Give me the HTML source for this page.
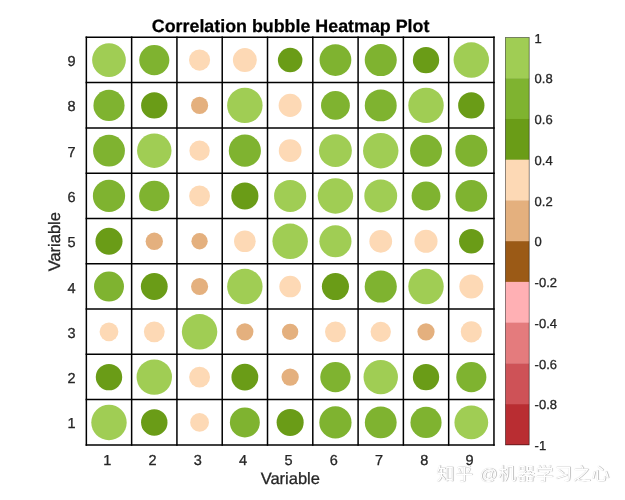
<!DOCTYPE html>
<html><head><meta charset="utf-8"><title>Correlation bubble Heatmap Plot</title>
<style>
html,body{margin:0;padding:0;background:#fff;}
body{width:625px;height:500px;overflow:hidden;position:relative;font-family:"Liberation Sans","Noto Sans CJK SC",sans-serif;}
svg{position:absolute;left:0;top:0;display:block;will-change:transform}
text{font-family:"Liberation Sans","Noto Sans CJK SC",sans-serif;text-rendering:geometricPrecision;stroke:#262626;stroke-width:.3px}
text.t{stroke:#000;stroke-width:.25px}
.wm{position:absolute;left:436.5px;top:461px;font-size:18px;letter-spacing:.65px;line-height:27px;color:#fff;white-space:nowrap;transform:scaleY(.92);transform-origin:0 50%;
text-shadow:0.7px 0.7px 0.7px rgba(0,0,0,.30),0 0 0.8px rgba(0,0,0,.22);}
</style></head><body>
<svg width="625" height="500" viewBox="0 0 625 500">
<rect width="625" height="500" fill="#fff"/>
<g>
<circle cx="108.99" cy="60.09" r="16.88" fill="#A0CD54"/>
<circle cx="154.28" cy="60.09" r="15.07" fill="#7FB330"/>
<circle cx="199.57" cy="60.09" r="10.57" fill="#FDD9B5"/>
<circle cx="244.86" cy="60.09" r="11.97" fill="#FDD9B5"/>
<circle cx="290.15" cy="60.09" r="12.27" fill="#6A9C17"/>
<circle cx="335.44" cy="60.09" r="15.88" fill="#7FB330"/>
<circle cx="380.74" cy="60.09" r="16.02" fill="#7FB330"/>
<circle cx="426.02" cy="60.09" r="13.17" fill="#6A9C17"/>
<circle cx="471.31" cy="60.09" r="17.72" fill="#A0CD54"/>
<circle cx="108.99" cy="105.39" r="15.57" fill="#7FB330"/>
<circle cx="154.28" cy="105.39" r="13.17" fill="#6A9C17"/>
<circle cx="199.57" cy="105.39" r="8.57" fill="#E4B07E"/>
<circle cx="244.86" cy="105.39" r="17.72" fill="#A0CD54"/>
<circle cx="290.15" cy="105.39" r="11.52" fill="#FDD9B5"/>
<circle cx="335.44" cy="105.39" r="14.42" fill="#7FB330"/>
<circle cx="380.74" cy="105.39" r="15.97" fill="#7FB330"/>
<circle cx="426.02" cy="105.39" r="17.72" fill="#A0CD54"/>
<circle cx="471.31" cy="105.39" r="13.17" fill="#6A9C17"/>
<circle cx="108.99" cy="150.67" r="15.92" fill="#7FB330"/>
<circle cx="154.28" cy="150.67" r="17.22" fill="#A0CD54"/>
<circle cx="199.57" cy="150.67" r="10.17" fill="#FDD9B5"/>
<circle cx="244.86" cy="150.67" r="16.07" fill="#7FB330"/>
<circle cx="290.15" cy="150.67" r="11.38" fill="#FDD9B5"/>
<circle cx="335.44" cy="150.67" r="16.43" fill="#A0CD54"/>
<circle cx="380.74" cy="150.67" r="17.72" fill="#A0CD54"/>
<circle cx="426.02" cy="150.67" r="15.97" fill="#7FB330"/>
<circle cx="471.31" cy="150.67" r="16.02" fill="#7FB330"/>
<circle cx="108.99" cy="195.97" r="16.12" fill="#7FB330"/>
<circle cx="154.28" cy="195.97" r="15.17" fill="#7FB330"/>
<circle cx="199.57" cy="195.97" r="10.42" fill="#FDD9B5"/>
<circle cx="244.86" cy="195.97" r="13.57" fill="#6A9C17"/>
<circle cx="290.15" cy="195.97" r="16.07" fill="#A0CD54"/>
<circle cx="335.44" cy="195.97" r="17.72" fill="#A0CD54"/>
<circle cx="380.74" cy="195.97" r="16.43" fill="#A0CD54"/>
<circle cx="426.02" cy="195.97" r="14.42" fill="#7FB330"/>
<circle cx="471.31" cy="195.97" r="15.88" fill="#7FB330"/>
<circle cx="108.99" cy="241.26" r="13.52" fill="#6A9C17"/>
<circle cx="154.28" cy="241.26" r="8.67" fill="#E4B07E"/>
<circle cx="199.57" cy="241.26" r="8.17" fill="#E4B07E"/>
<circle cx="244.86" cy="241.26" r="10.82" fill="#FDD9B5"/>
<circle cx="290.15" cy="241.26" r="17.72" fill="#A0CD54"/>
<circle cx="335.44" cy="241.26" r="16.07" fill="#A0CD54"/>
<circle cx="380.74" cy="241.26" r="11.38" fill="#FDD9B5"/>
<circle cx="426.02" cy="241.26" r="11.52" fill="#FDD9B5"/>
<circle cx="471.31" cy="241.26" r="12.27" fill="#6A9C17"/>
<circle cx="108.99" cy="286.54" r="14.97" fill="#7FB330"/>
<circle cx="154.28" cy="286.54" r="13.42" fill="#6A9C17"/>
<circle cx="199.57" cy="286.54" r="8.57" fill="#E4B07E"/>
<circle cx="244.86" cy="286.54" r="17.72" fill="#A0CD54"/>
<circle cx="290.15" cy="286.54" r="10.82" fill="#FDD9B5"/>
<circle cx="335.44" cy="286.54" r="13.57" fill="#6A9C17"/>
<circle cx="380.74" cy="286.54" r="16.07" fill="#7FB330"/>
<circle cx="426.02" cy="286.54" r="17.72" fill="#A0CD54"/>
<circle cx="471.31" cy="286.54" r="11.97" fill="#FDD9B5"/>
<circle cx="108.99" cy="331.83" r="9.38" fill="#FDD9B5"/>
<circle cx="154.28" cy="331.83" r="10.42" fill="#FDD9B5"/>
<circle cx="199.57" cy="331.83" r="17.72" fill="#A0CD54"/>
<circle cx="244.86" cy="331.83" r="8.57" fill="#E4B07E"/>
<circle cx="290.15" cy="331.83" r="8.17" fill="#E4B07E"/>
<circle cx="335.44" cy="331.83" r="10.42" fill="#FDD9B5"/>
<circle cx="380.74" cy="331.83" r="10.17" fill="#FDD9B5"/>
<circle cx="426.02" cy="331.83" r="8.57" fill="#E4B07E"/>
<circle cx="471.31" cy="331.83" r="10.57" fill="#FDD9B5"/>
<circle cx="108.99" cy="377.12" r="13.22" fill="#6A9C17"/>
<circle cx="154.28" cy="377.12" r="17.72" fill="#A0CD54"/>
<circle cx="199.57" cy="377.12" r="10.42" fill="#FDD9B5"/>
<circle cx="244.86" cy="377.12" r="13.42" fill="#6A9C17"/>
<circle cx="290.15" cy="377.12" r="8.67" fill="#E4B07E"/>
<circle cx="335.44" cy="377.12" r="15.17" fill="#7FB330"/>
<circle cx="380.74" cy="377.12" r="17.22" fill="#A0CD54"/>
<circle cx="426.02" cy="377.12" r="13.17" fill="#6A9C17"/>
<circle cx="471.31" cy="377.12" r="15.07" fill="#7FB330"/>
<circle cx="108.99" cy="422.41" r="17.72" fill="#A0CD54"/>
<circle cx="154.28" cy="422.41" r="13.22" fill="#6A9C17"/>
<circle cx="199.57" cy="422.41" r="9.38" fill="#FDD9B5"/>
<circle cx="244.86" cy="422.41" r="14.97" fill="#7FB330"/>
<circle cx="290.15" cy="422.41" r="13.52" fill="#6A9C17"/>
<circle cx="335.44" cy="422.41" r="16.12" fill="#7FB330"/>
<circle cx="380.74" cy="422.41" r="15.92" fill="#7FB330"/>
<circle cx="426.02" cy="422.41" r="15.57" fill="#7FB330"/>
<circle cx="471.31" cy="422.41" r="16.88" fill="#A0CD54"/>
</g>
<g stroke="#000" stroke-width="1.5" fill="none" stroke-linecap="square">
<line x1="86.35" y1="37.30" x2="86.35" y2="444.91"/>
<line x1="86.35" y1="37.30" x2="493.96" y2="37.30"/>
<line x1="131.64" y1="37.30" x2="131.64" y2="444.91"/>
<line x1="86.35" y1="82.59" x2="493.96" y2="82.59"/>
<line x1="176.93" y1="37.30" x2="176.93" y2="444.91"/>
<line x1="86.35" y1="127.88" x2="493.96" y2="127.88"/>
<line x1="222.22" y1="37.30" x2="222.22" y2="444.91"/>
<line x1="86.35" y1="173.17" x2="493.96" y2="173.17"/>
<line x1="267.51" y1="37.30" x2="267.51" y2="444.91"/>
<line x1="86.35" y1="218.46" x2="493.96" y2="218.46"/>
<line x1="312.80" y1="37.30" x2="312.80" y2="444.91"/>
<line x1="86.35" y1="263.75" x2="493.96" y2="263.75"/>
<line x1="358.09" y1="37.30" x2="358.09" y2="444.91"/>
<line x1="86.35" y1="309.04" x2="493.96" y2="309.04"/>
<line x1="403.38" y1="37.30" x2="403.38" y2="444.91"/>
<line x1="86.35" y1="354.33" x2="493.96" y2="354.33"/>
<line x1="448.67" y1="37.30" x2="448.67" y2="444.91"/>
<line x1="86.35" y1="399.62" x2="493.96" y2="399.62"/>
<line x1="493.96" y1="37.30" x2="493.96" y2="444.91"/>
<line x1="86.35" y1="444.91" x2="493.96" y2="444.91"/>
</g>
<rect x="505.4" y="37.50" width="23.80" height="41.03" fill="#A0CD54"/>
<rect x="505.4" y="78.23" width="23.80" height="41.03" fill="#7FB330"/>
<rect x="505.4" y="118.96" width="23.80" height="41.03" fill="#6A9C17"/>
<rect x="505.4" y="159.69" width="23.80" height="41.03" fill="#FDD9B5"/>
<rect x="505.4" y="200.42" width="23.80" height="41.03" fill="#E4B07E"/>
<rect x="505.4" y="241.15" width="23.80" height="41.03" fill="#9B5A16"/>
<rect x="505.4" y="281.88" width="23.80" height="41.03" fill="#FFB0B4"/>
<rect x="505.4" y="322.61" width="23.80" height="41.03" fill="#E47B7D"/>
<rect x="505.4" y="363.34" width="23.80" height="41.03" fill="#CE5257"/>
<rect x="505.4" y="404.07" width="23.80" height="41.03" fill="#B92D32"/>
<rect x="505.4" y="37.5" width="23.80" height="407.30" fill="none" stroke="rgba(0,0,0,0.55)" stroke-width="0.8"/>
<g font-size="13" fill="#262626">
<text x="534.6" y="42.75">1</text>
<text x="534.6" y="83.48">0.8</text>
<text x="534.6" y="124.21">0.6</text>
<text x="534.6" y="164.94">0.4</text>
<text x="534.6" y="205.67">0.2</text>
<text x="534.6" y="246.40">0</text>
<text x="534.6" y="287.13">-0.2</text>
<text x="534.6" y="327.86">-0.4</text>
<text x="534.6" y="368.59">-0.6</text>
<text x="534.6" y="409.32">-0.8</text>
<text x="534.6" y="450.05">-1</text>
</g>
<g font-size="14.5" fill="#262626" text-anchor="middle">
<text x="107.29" y="464.7">1</text>
<text x="152.59" y="464.7">2</text>
<text x="197.88" y="464.7">3</text>
<text x="243.16" y="464.7">4</text>
<text x="288.45" y="464.7">5</text>
<text x="333.75" y="464.7">6</text>
<text x="379.04" y="464.7">7</text>
<text x="424.32" y="464.7">8</text>
<text x="469.61" y="464.7">9</text>
</g>
<g font-size="14.5" fill="#262626" text-anchor="end">
<text x="75.6" y="428.46">1</text>
<text x="75.6" y="383.17">2</text>
<text x="75.6" y="337.88">3</text>
<text x="75.6" y="292.59">4</text>
<text x="75.6" y="247.30">5</text>
<text x="75.6" y="202.01">6</text>
<text x="75.6" y="156.72">7</text>
<text x="75.6" y="111.43">8</text>
<text x="75.6" y="66.14">9</text>
</g>
<text x="290.3" y="484.4" font-size="16.5" fill="#262626" text-anchor="middle">Variable</text>
<text transform="translate(59.5,241.7) rotate(-90)" font-size="16.5" fill="#262626" text-anchor="middle">Variable</text>
<text x="290.6" y="31.6" font-size="17.85" font-weight="bold" fill="#000" text-anchor="middle" class="t">Correlation bubble Heatmap Plot</text>
</svg>
<div class="wm">知乎 @机器学习之心</div>
</body></html>
